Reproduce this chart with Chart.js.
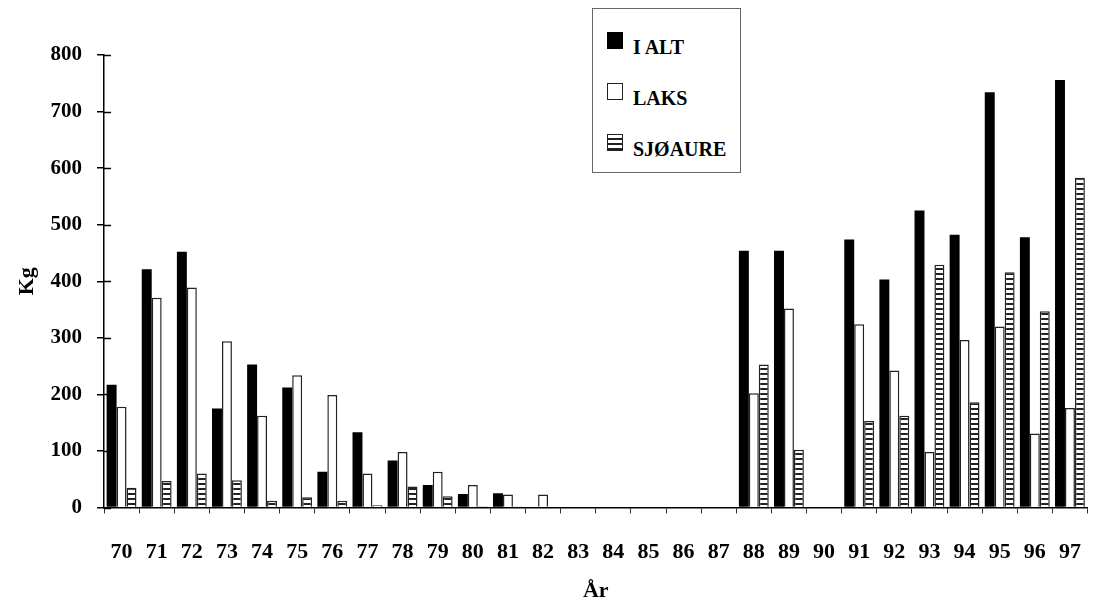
<!DOCTYPE html>
<html lang="no">
<head>
<meta charset="utf-8">
<title>Fangst av laks og sjøaure 1970–1997</title>
<script src="https://cdn.jsdelivr.net/npm/chart.js@4.4.1/dist/chart.umd.min.js"></script>
<style>
  html, body { margin: 0; padding: 0; background: #fff; }
  #wrap { position: relative; width: 1107px; height: 613px; }
  #chart { position: absolute; left: 0; top: 0; }
  #legend {
    position: absolute; left: 592px; top: 8px; width: 149px; height: 165px;
    border: 1.5px solid #666; background: #fff; box-sizing: border-box;
    font-family: "Liberation Serif", "DejaVu Serif", serif; font-weight: bold;
    font-size: 20px; color: #000;
  }
  .item { position: absolute; left: 14px; display: flex; align-items: flex-end; }
  .sw { width: 16px; height: 17px; box-sizing: border-box; margin-right: 10px; }
  .lbl { line-height: 20px; position: relative; top: 8px; }
  .sw-total { background: #000; }
  .sw-laks { background: #fff; border: 1.5px solid #222; }
  .sw-sjo { border: 1.5px solid #222;
    background: repeating-linear-gradient(to bottom, #fff 0px, #fff 3px, #222 3px, #222 5px); }
</style>
</head>
<body>
<div id="wrap">
  <canvas id="chart" width="1107" height="613"></canvas>
  <div id="legend">
    <div class="item" style="top:20px"><div class="sw sw-total"></div><span class="lbl">I ALT</span></div>
    <div class="item" style="top:71px"><div class="sw sw-laks"></div><span class="lbl">LAKS</span></div>
    <div class="item" style="top:122px"><div class="sw sw-sjo"></div><span class="lbl">SJØAURE</span></div>
  </div>
</div>
<script>
// Fangstår (19xx)
const years = ['70','71','72','73','74','75','76','77','78','79','80','81','82','83',
               '84','85','86','87','88','89','90','91','92','93','94','95','96','97'];

// Fangst i kg
const iAlt    = [217, 421, 452, 175, 253, 212, 63, 133, 83, 40, 24, 25, 0, 0,
                 0, 0, 0, 0, 454, 454, 0, 474, 403, 525, 482, 734, 478, 756];
const laks    = [178, 371, 389, 294, 162, 234, 199, 60, 98, 63, 40, 23, 23, 0,
                 0, 0, 0, 0, 202, 352, 0, 324, 242, 98, 296, 320, 131, 176];
const sjoaure = [35, 47, 60, 48, 12, 18, 12, 4, 37, 20, 2, 1, 0, 0,
                 0, 0, 0, 0, 253, 102, 0, 153, 162, 429, 186, 416, 347, 583];

const yTicks = { min: 0, max: 800, step: 100 };

const serif = '"Liberation Serif", "DejaVu Serif", serif';

// Horizontal hatch used for the sea-trout bars
function hatchPattern() {
  const c = document.createElement('canvas');
  c.width = 8; c.height = 5;
  const g = c.getContext('2d');
  g.fillStyle = '#fff';
  g.fillRect(0, 0, 8, 5);
  g.fillStyle = '#222';
  g.fillRect(0, 3, 8, 2);
  return g.createPattern(c, 'repeat');
}

// Short tick marks on the inner side of the value axis
const innerTicks = {
  id: 'innerTicks',
  afterDatasetsDraw(chart) {
    const y = chart.scales.y;
    const x0 = chart.chartArea.left;
    const ctx = chart.ctx;
    ctx.save();
    ctx.strokeStyle = '#000';
    ctx.lineWidth = 1.5;
    y.ticks.forEach(t => {
      const py = Math.round(y.getPixelForValue(t.value)) + 0.5;
      ctx.beginPath();
      ctx.moveTo(x0, py);
      ctx.lineTo(x0 + 7, py);
      ctx.stroke();
    });
    ctx.restore();
  }
};

const ctx = document.getElementById('chart').getContext('2d');
new Chart(ctx, {
  type: 'bar',
  data: {
    labels: years,
    datasets: [
      { label: 'I ALT', data: iAlt, backgroundColor: '#000', borderColor: '#000', borderWidth: 0 },
      { label: 'LAKS', data: laks, backgroundColor: '#fff', borderColor: '#222', borderWidth: 1.5 },
      { label: 'SJØAURE', data: sjoaure, backgroundColor: hatchPattern(), borderColor: '#222', borderWidth: 1.5 }
    ]
  },
  options: {
    responsive: false,
    devicePixelRatio: 1,
    animation: false,
    layout: { padding: { top: 55, right: 3, bottom: 0, left: 0 } },
    datasets: { bar: { categoryPercentage: 0.85, barPercentage: 1.0 } },
    plugins: {
      legend: { display: false },
      tooltip: { enabled: false }
    },
    scales: {
      x: {
        type: 'category',
        offset: true,
        afterFit(scale) { scale.height = 105.5; },
        border: { display: true, color: '#000', width: 1.5 },
        grid: { display: true, offset: true, drawOnChartArea: false, drawTicks: true,
                tickLength: 6, color: '#333', lineWidth: 1 },
        ticks: { color: '#000', padding: 26, maxRotation: 0, autoSkip: false,
                 font: { family: serif, size: 22, weight: 'bold' } },
        title: { display: true, text: 'År', color: '#000',
                 padding: { top: 0, bottom: 8 },
                 font: { family: serif, size: 22, weight: 'bold' } }
      },
      y: {
        min: yTicks.min,
        max: yTicks.max,
        afterFit(scale) { scale.width = 104; },
        border: { display: true, color: '#000', width: 1.5 },
        grid: { display: true, drawOnChartArea: false, drawTicks: true,
                tickLength: 7, color: '#000', lineWidth: 1.5 },
        ticks: { stepSize: yTicks.step, color: '#000', padding: 15,
                 font: { family: serif, size: 21, weight: 'bold' } },
        title: { display: true, text: 'Kg', color: '#000',
                 padding: { top: 14, bottom: 0 },
                 font: { family: serif, size: 22, weight: 'bold' } }
      }
    }
  },
  plugins: [innerTicks]
});
</script>
</body>
</html>
